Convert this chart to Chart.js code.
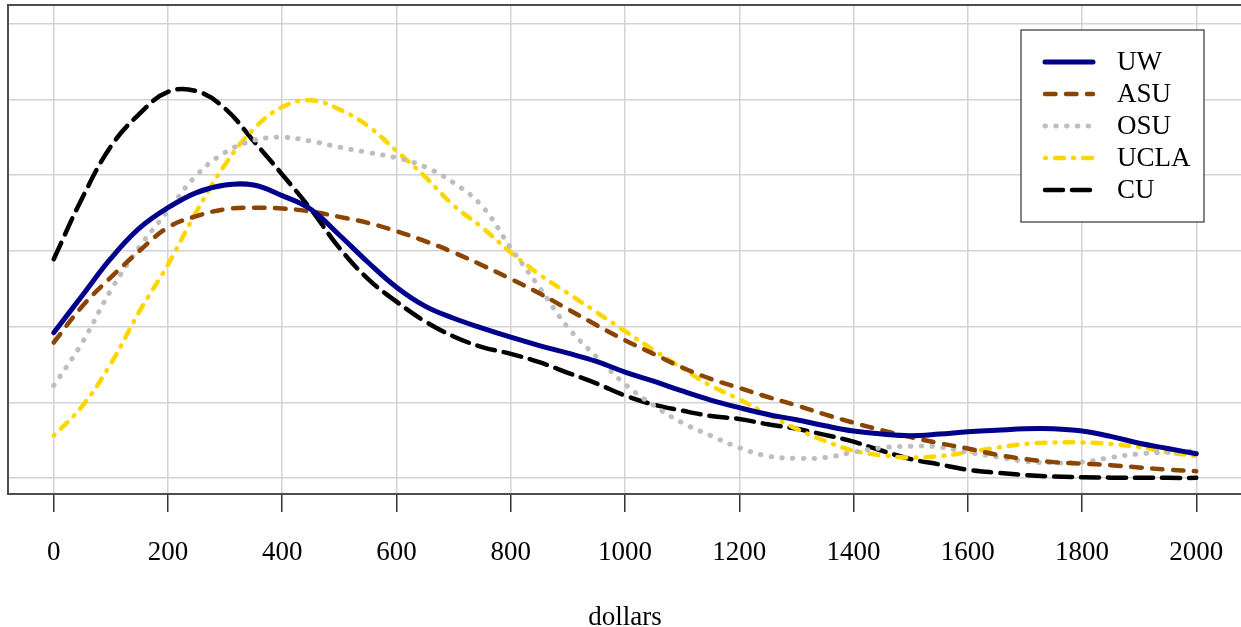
<!DOCTYPE html>
<html>
<head>
<meta charset="utf-8">
<script src="https://cdn.jsdelivr.net/npm/chart.js@4"></script>
<style>
  html, body { margin: 0; padding: 0; background: #fff; overflow: hidden; }
  #wrap { width: 1241px; height: 627px; overflow: hidden; }
</style>
</head>
<body>
<div id="wrap"><canvas id="grafico" width="1250" height="627"></canvas></div>
<script>
// dollars (x), one value every 50
const dolares = [0, 50, 100, 150, 200, 250, 300, 350, 400, 450, 500, 550, 600, 650, 700, 750, 800, 850, 900, 950,
  1000, 1050, 1100, 1150, 1200, 1250, 1300, 1350, 1400, 1450, 1500, 1550, 1600, 1650, 1700, 1750, 1800, 1850, 1900, 1950, 2000];

// tick labels on the x axis
const ticksX = [0, 200, 400, 600, 800, 1000, 1200, 1400, 1600, 1800, 2000];
// horizontal gridlines (no labels shown)
const ticksY = [0, 1, 2, 3, 4, 5, 6];

// density estimates (arbitrary units, one gridline = 1)
const uw = [1.92, 2.41, 2.90, 3.30, 3.57, 3.77, 3.87, 3.87, 3.73, 3.55, 3.21, 2.85, 2.52, 2.27, 2.11, 1.98, 1.86, 1.75, 1.65, 1.54,
  1.40, 1.28, 1.15, 1.03, 0.93, 0.84, 0.77, 0.69, 0.62, 0.58, 0.56, 0.58, 0.61, 0.63, 0.65, 0.65, 0.62, 0.55, 0.46, 0.39, 0.32];
const asu = [1.79, 2.27, 2.65, 3.00, 3.31, 3.46, 3.55, 3.57, 3.56, 3.52, 3.45, 3.37, 3.26, 3.13, 2.98, 2.81, 2.63, 2.44, 2.23, 2.02,
  1.82, 1.64, 1.46, 1.31, 1.19, 1.07, 0.96, 0.84, 0.73, 0.63, 0.54, 0.46, 0.39, 0.31, 0.25, 0.21, 0.19, 0.17, 0.14, 0.11, 0.09];
const osu = [1.22, 1.79, 2.48, 3.05, 3.53, 4.00, 4.30, 4.46, 4.50, 4.45, 4.37, 4.30, 4.23, 4.11, 3.90, 3.59, 3.04, 2.52, 1.99, 1.60,
  1.24, 0.96, 0.73, 0.56, 0.40, 0.29, 0.26, 0.27, 0.34, 0.40, 0.42, 0.41, 0.34, 0.28, 0.22, 0.20, 0.21, 0.27, 0.32, 0.34, 0.36];
const ucla = [0.56, 0.95, 1.51, 2.20, 2.82, 3.52, 4.14, 4.61, 4.90, 4.99, 4.87, 4.65, 4.32, 3.98, 3.60, 3.31, 2.98, 2.69, 2.44, 2.19,
  1.94, 1.69, 1.45, 1.22, 1.04, 0.84, 0.65, 0.49, 0.36, 0.30, 0.27, 0.29, 0.34, 0.40, 0.45, 0.47, 0.47, 0.45, 0.41, 0.34, 0.29];
const cu = [2.89, 3.70, 4.38, 4.81, 5.10, 5.11, 4.88, 4.45, 4.01, 3.55, 3.04, 2.63, 2.33, 2.07, 1.87, 1.73, 1.64, 1.53, 1.39, 1.25,
  1.09, 0.97, 0.89, 0.82, 0.78, 0.71, 0.65, 0.57, 0.48, 0.36, 0.25, 0.18, 0.11, 0.07, 0.04, 0.02, 0.01, 0.005, 0.003, 0.002, 0.002];

const nombres = ['UW', 'ASU', 'OSU', 'UCLA', 'CU'];
const series = [uw, asu, osu, ucla, cu];
const colores = ['#00008b', '#8b4500', '#bebebe', '#ffd700', '#000000'];
const trazos = [[], [10.5, 10.5], [0.5, 10.3], [1, 9, 9, 9], [18, 9]];
const grosores = [5, 4.5, 5, 4.5, 4.5];

const fuente = 'Liberation Serif';

// box around the plot + legend with frame
const marcoYLeyenda = {
  id: 'marcoYLeyenda',
  afterDatasetsDraw(chart) {
    const { ctx, chartArea: a } = chart;
    ctx.save();
    ctx.strokeStyle = '#4d4d4d';
    ctx.lineWidth = 2;
    ctx.strokeRect(a.left, a.top, a.right - a.left, a.bottom - a.top);

    // legend
    const bx = 1021, by = 30, bw = 183, bh = 192;
    ctx.fillStyle = '#fff';
    ctx.fillRect(bx, by, bw, bh);
    ctx.strokeStyle = '#333';
    ctx.lineWidth = 1.2;
    ctx.strokeRect(bx, by, bw, bh);
    chart.data.datasets.forEach((ds, i) => {
      const y = 62 + i * 32;
      ctx.beginPath();
      ctx.strokeStyle = ds.borderColor;
      ctx.lineWidth = ds.borderWidth;
      ctx.lineCap = 'round';
      ctx.setLineDash(ds.borderDash);
      ctx.moveTo(1045, y);
      ctx.lineTo(1093, y);
      ctx.stroke();
      ctx.setLineDash([]);
      ctx.fillStyle = '#000';
      ctx.font = '27px "' + fuente + '"';
      ctx.textAlign = 'left';
      ctx.textBaseline = 'middle';
      ctx.fillText(ds.label, 1117, y + 1);
    });
    ctx.restore();
  }
};

const ctx = document.getElementById('grafico').getContext('2d');
const grafico = new Chart(ctx, {
  type: 'line',
  data: {
    datasets: series.map((s, i) => ({
      label: nombres[i],
      data: dolares.map((d, j) => ({ x: d, y: s[j] })),
      borderColor: colores[i],
      borderWidth: grosores[i],
      borderDash: trazos[i],
      borderCapStyle: 'round',
      borderJoinStyle: 'round',
      tension: 0.4,
      pointRadius: 0,
      fill: false
    }))
  },
  options: {
    responsive: false,
    animation: false,
    layout: { padding: { left: 8, top: 5, right: 8, bottom: 0 } },
    plugins: {
      legend: { display: false },
      tooltip: { enabled: false },
      title: { display: false }
    },
    scales: {
      x: {
        type: 'linear',
        min: -80,
        max: 2080,
        afterBuildTicks: s => { s.ticks = ticksX.map(v => ({ value: v })); },
        afterFit: s => { s.height = 133; },
        ticks: {
          autoSkip: false,
          maxRotation: 0,
          padding: 25,
          color: '#000',
          font: { family: fuente, size: 27 },
          callback: v => String(v)
        },
        grid: {
          color: '#d3d3d3',
          lineWidth: 1.5,
          tickColor: '#333',
          tickLength: 18,
          tickWidth: 1.5
        },
        border: { display: false },
        title: {
          display: true,
          text: 'dollars',
          color: '#000',
          font: { family: fuente, size: 27, lineHeight: 0.65 },
          padding: { top: 0, bottom: 0 }
        }
      },
      y: {
        min: -0.211,
        max: 6.248,
        afterBuildTicks: s => { s.ticks = ticksY.map(v => ({ value: v })); },
        afterFit: s => { s.width = 0; },
        ticks: { display: false },
        grid: { color: '#d3d3d3', lineWidth: 1.5, drawTicks: false },
        border: { display: false }
      }
    }
  },
  plugins: [marcoYLeyenda]
});
</script>
</body>
</html>
